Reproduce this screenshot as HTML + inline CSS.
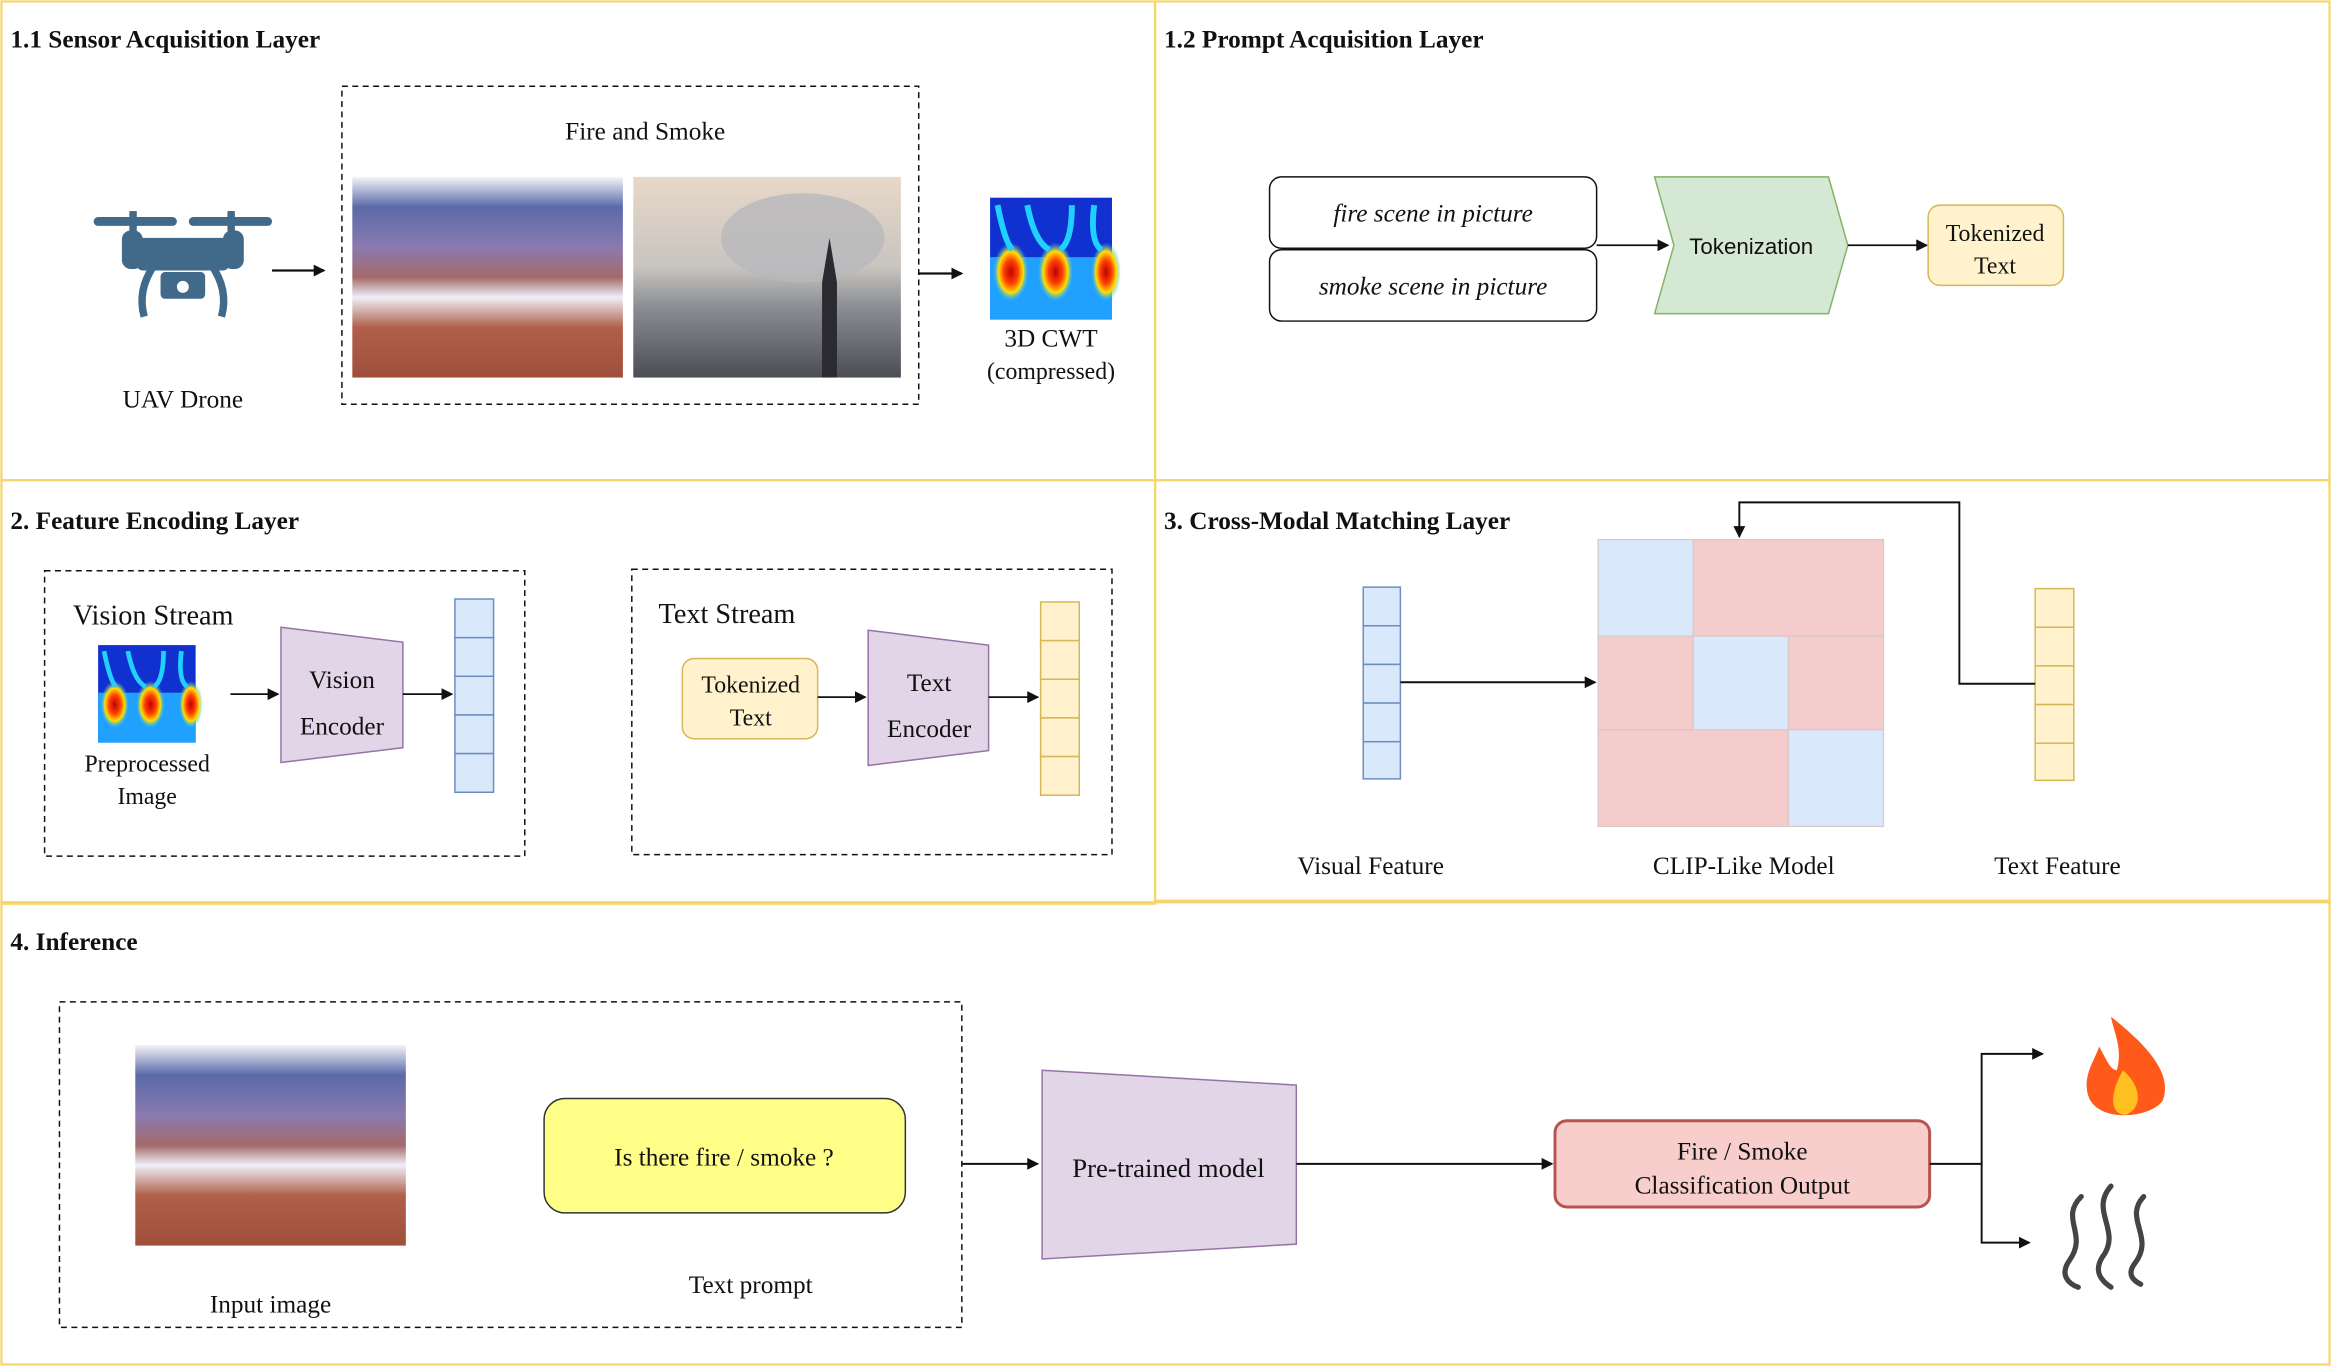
<!DOCTYPE html>
<html><head><meta charset="utf-8"><style>
html,body{margin:0;padding:0;background:#fff;width:2331px;height:1366px;overflow:hidden}
svg{display:block}
text{font-family:"Liberation Serif",serif;fill:#111}
.b{font-weight:bold;font-size:17px}
.s{font-family:"Liberation Sans",sans-serif}
</style></head><body>
<svg width="2331" height="1366" viewBox="0 0 1568 919" preserveAspectRatio="none" xmlns="http://www.w3.org/2000/svg">
<defs>
<marker id="a" markerWidth="8" markerHeight="8" refX="7" refY="4" orient="auto" markerUnits="userSpaceOnUse"><path d="M0,0 L8,4 L0,8 Z" fill="#111"/></marker>
<linearGradient id="g1" x1="0" y1="0" x2="0" y2="1"><stop offset="0" stop-color="#f4f4f8"/><stop offset="0.15" stop-color="#5a6aa8"/><stop offset="0.35" stop-color="#8a7ab0"/><stop offset="0.5" stop-color="#a46a6a"/><stop offset="0.6" stop-color="#eef0f8"/><stop offset="0.75" stop-color="#b0604a"/><stop offset="1" stop-color="#a0503a"/></linearGradient>
<linearGradient id="g2" x1="0" y1="0" x2="0" y2="1"><stop offset="0" stop-color="#e8d8c8"/><stop offset="0.45" stop-color="#c8c4c0"/><stop offset="0.65" stop-color="#8a8e92"/><stop offset="1" stop-color="#4a4e54"/></linearGradient>
<radialGradient id="hot"><stop offset="0" stop-color="#c00000"/><stop offset="0.4" stop-color="#ff4000"/><stop offset="0.7" stop-color="#ffe000"/><stop offset="1" stop-color="#20c0ff" stop-opacity="0"/></radialGradient>
<g id="cwt"><rect width="82" height="82" fill="#1030d0"/><rect y="40" width="82" height="42" fill="#20a0ff"/><ellipse cx="14" cy="50" rx="12" ry="20" fill="url(#hot)"/><ellipse cx="44" cy="50" rx="12" ry="20" fill="url(#hot)"/><ellipse cx="78" cy="50" rx="10" ry="20" fill="url(#hot)"/><path d="M5,5 q5,25 10,30 M25,5 q5,25 15,30 M55,5 q0,25 -8,30 M70,5 q-3,25 5,30" stroke="#20d0ff" stroke-width="4" fill="none"/></g>
</defs>
<!-- panels -->
<g fill="none" stroke="#f7d56a" stroke-width="1.5">
<rect x="1" y="1" width="776" height="322"/><rect x="777" y="1" width="790" height="322"/>
<rect x="1" y="323" width="776" height="285"/><rect x="777" y="323" width="790" height="283"/>
<rect x="1" y="607" width="1566" height="311"/>
</g>
<text x="7" y="32" class="b">1.1 Sensor Acquisition Layer</text>
<text x="783" y="32" class="b">1.2 Prompt Acquisition Layer</text>
<text x="7" y="356" class="b">2. Feature Encoding Layer</text>
<text x="783" y="356" class="b">3. Cross-Modal Matching Layer</text>
<text x="7" y="639" class="b">4. Inference</text>
<!-- drone -->
<g fill="#41698a">
<rect x="63" y="146" width="56" height="6" rx="3"/><rect x="127" y="146" width="56" height="6" rx="3"/>
<rect x="87" y="142" width="5" height="22"/><rect x="153" y="142" width="5" height="22"/>
<rect x="82" y="155" width="14" height="26" rx="6"/><rect x="150" y="155" width="14" height="26" rx="6"/>
<rect x="92" y="160" width="62" height="22" rx="4"/>
<rect x="108" y="183" width="30" height="18" rx="3"/>
<path d="M104,178 Q92,195 97,213" stroke="#41698a" stroke-width="5" fill="none"/><path d="M142,178 Q154,195 149,213" stroke="#41698a" stroke-width="5" fill="none"/>
</g><circle cx="123" cy="193" r="4" fill="#fff"/>
<text x="123" y="274" font-size="17" text-anchor="middle">UAV Drone</text>
<line x1="183" y1="182" x2="218" y2="182" stroke="#111" stroke-width="1.5" marker-end="url(#a)"/>
<rect x="230" y="58" width="388" height="214" fill="none" stroke="#111" stroke-dasharray="4,3"/>
<text x="434" y="94" font-size="17" text-anchor="middle">Fire and Smoke</text>
<rect x="237" y="119" width="182" height="135" fill="url(#g1)"/>
<rect x="426" y="119" width="180" height="135" fill="url(#g2)"/>
<ellipse cx="540" cy="160" rx="55" ry="30" fill="#b8b8bc" opacity="0.8"/>
<path d="M553,254 L553,190 L558,160 L563,190 L563,254 Z" fill="#2a2a30"/>
<line x1="618" y1="184" x2="647" y2="184" stroke="#111" stroke-width="1.5" marker-end="url(#a)"/>
<use href="#cwt" transform="translate(666,133)"/>
<text x="707" y="233" font-size="17" text-anchor="middle">3D CWT</text>
<text x="707" y="255" font-size="16" text-anchor="middle">(compressed)</text>
<!-- 1.2 -->
<rect x="854" y="119" width="220" height="48" rx="8" fill="#fff" stroke="#111"/>
<text x="964" y="149" font-size="17" font-style="italic" text-anchor="middle">fire scene in picture</text>
<rect x="854" y="168" width="220" height="48" rx="8" fill="#fff" stroke="#111"/>
<text x="964" y="198" font-size="17" font-style="italic" text-anchor="middle">smoke scene in picture</text>
<line x1="1074" y1="165" x2="1122" y2="165" stroke="#111" stroke-width="1.2" marker-end="url(#a)"/>
<path d="M1113,119 L1230,119 L1243,165 L1230,211 L1113,211 L1126,165 Z" fill="#d5e8d4" stroke="#82b366"/>
<text x="1178" y="171" font-size="15" class="s" text-anchor="middle">Tokenization</text>
<line x1="1243" y1="165" x2="1296" y2="165" stroke="#111" stroke-width="1.2" marker-end="url(#a)"/>
<rect x="1297" y="138" width="91" height="54" rx="8" fill="#fff2cc" stroke="#d6b656"/>
<text x="1342" y="162" font-size="16" text-anchor="middle">Tokenized</text><text x="1342" y="184" font-size="16" text-anchor="middle">Text</text>
<!-- 2 -->
<rect x="30" y="384" width="323" height="192" fill="none" stroke="#111" stroke-dasharray="4,3"/>
<text x="49" y="420" font-size="19">Vision Stream</text>
<use href="#cwt" transform="translate(66,434) scale(0.8)"/>
<text x="99" y="519" font-size="16" text-anchor="middle">Preprocessed</text><text x="99" y="541" font-size="16" text-anchor="middle">Image</text>
<line x1="155" y1="467" x2="187" y2="467" stroke="#111" stroke-width="1.2" marker-end="url(#a)"/>
<path d="M189,422 L271,432 L271,503 L189,513 Z" fill="#e1d5e7" stroke="#9673a6"/>
<text x="230" y="463" font-size="17" text-anchor="middle">Vision</text><text x="230" y="494" font-size="17" text-anchor="middle">Encoder</text>
<line x1="271" y1="467" x2="304" y2="467" stroke="#111" stroke-width="1.2" marker-end="url(#a)"/>
<g fill="#dae8fc" stroke="#6c8ebf"><rect x="306" y="403" width="26" height="26"/><rect x="306" y="429" width="26" height="26"/><rect x="306" y="455" width="26" height="26"/><rect x="306" y="481" width="26" height="26"/><rect x="306" y="507" width="26" height="26"/></g>
<rect x="425" y="383" width="323" height="192" fill="none" stroke="#111" stroke-dasharray="4,3"/>
<text x="443" y="419" font-size="19">Text Stream</text>
<rect x="459" y="443" width="91" height="54" rx="8" fill="#fff2cc" stroke="#d6b656"/>
<text x="505" y="466" font-size="16" text-anchor="middle">Tokenized</text><text x="505" y="488" font-size="16" text-anchor="middle">Text</text>
<line x1="550" y1="469" x2="582" y2="469" stroke="#111" stroke-width="1.2" marker-end="url(#a)"/>
<path d="M584,424 L665,434 L665,505 L584,515 Z" fill="#e1d5e7" stroke="#9673a6"/>
<text x="625" y="465" font-size="17" text-anchor="middle">Text</text><text x="625" y="496" font-size="17" text-anchor="middle">Encoder</text>
<line x1="665" y1="469" x2="698" y2="469" stroke="#111" stroke-width="1.2" marker-end="url(#a)"/>
<g fill="#fff2cc" stroke="#d6b656"><rect x="700" y="405" width="26" height="26"/><rect x="700" y="431" width="26" height="26"/><rect x="700" y="457" width="26" height="26"/><rect x="700" y="483" width="26" height="26"/><rect x="700" y="509" width="26" height="26"/></g>
<!-- 3 -->
<g fill="#dae8fc" stroke="#6c8ebf"><rect x="917" y="395" width="25" height="26"/><rect x="917" y="421" width="25" height="26"/><rect x="917" y="447" width="25" height="26"/><rect x="917" y="473" width="25" height="26"/><rect x="917" y="499" width="25" height="25"/></g>
<line x1="942" y1="459" x2="1073" y2="459" stroke="#111" stroke-width="1.3" marker-end="url(#a)"/>
<g stroke="#d8c8c8" stroke-width="0.8">
<rect x="1075" y="363" width="64" height="65" fill="#dae8fc"/><rect x="1139" y="363" width="128" height="65" fill="#f4cccc"/>
<rect x="1075" y="428" width="64" height="63" fill="#f4cccc"/><rect x="1139" y="428" width="64" height="63" fill="#dae8fc"/><rect x="1203" y="428" width="64" height="63" fill="#f4cccc"/>
<rect x="1075" y="491" width="128" height="65" fill="#f4cccc"/><rect x="1203" y="491" width="64" height="65" fill="#dae8fc"/>
</g>
<g fill="#fff2cc" stroke="#d6b656"><rect x="1369" y="396" width="26" height="26"/><rect x="1369" y="422" width="26" height="26"/><rect x="1369" y="448" width="26" height="26"/><rect x="1369" y="474" width="26" height="26"/><rect x="1369" y="500" width="26" height="25"/></g>
<polyline points="1369,460 1318,460 1318,338 1170,338 1170,361" fill="none" stroke="#111" stroke-width="1.3" marker-end="url(#a)"/>
<text x="922" y="588" font-size="17" text-anchor="middle">Visual Feature</text>
<text x="1173" y="588" font-size="17" text-anchor="middle">CLIP-Like Model</text>
<text x="1384" y="588" font-size="17" text-anchor="middle">Text Feature</text>
<!-- 4 -->
<rect x="40" y="674" width="607" height="219" fill="none" stroke="#111" stroke-dasharray="4,3"/>
<rect x="91" y="703" width="182" height="135" fill="url(#g1)"/>
<text x="182" y="883" font-size="17" text-anchor="middle">Input image</text>
<rect x="366" y="739" width="243" height="77" rx="14" fill="#ffff88" stroke="#333"/>
<text x="487" y="784" font-size="17" text-anchor="middle">Is there fire / smoke ?</text>
<text x="505" y="870" font-size="17" text-anchor="middle">Text prompt</text>
<line x1="647" y1="783" x2="698" y2="783" stroke="#111" stroke-width="1.3" marker-end="url(#a)"/>
<path d="M701,720 L872,730 L872,837 L701,847 Z" fill="#e1d5e7" stroke="#9673a6"/>
<text x="786" y="792" font-size="18" text-anchor="middle">Pre-trained model</text>
<line x1="872" y1="783" x2="1044" y2="783" stroke="#111" stroke-width="1.3" marker-end="url(#a)"/>
<rect x="1046" y="754" width="252" height="58" rx="8" fill="#f8cecc" stroke="#b85450" stroke-width="2"/>
<text x="1172" y="780" font-size="17" text-anchor="middle">Fire / Smoke</text><text x="1172" y="803" font-size="17" text-anchor="middle">Classification Output</text>
<polyline points="1298,783 1333,783 1333,709 1374,709" fill="none" stroke="#111" stroke-width="1.3" marker-end="url(#a)"/>
<polyline points="1333,783 1333,836 1365,836" fill="none" stroke="#111" stroke-width="1.3" marker-end="url(#a)"/>
<path d="M1420,684 C1440,700 1462,720 1455,740 C1448,752 1412,756 1405,738 C1400,724 1410,712 1412,704 C1418,715 1420,720 1424,720 C1428,705 1422,695 1420,684 Z" fill="#ff5a1a"/>
<path d="M1428,720 C1440,730 1442,745 1430,750 C1420,750 1418,738 1428,720 Z" fill="#ffc020"/>
<g fill="none" stroke="#444" stroke-width="3.5" stroke-linecap="round">
<path d="M1400,805 C1385,820 1405,830 1392,848 C1385,858 1392,864 1398,866"/>
<path d="M1420,798 C1405,815 1428,828 1414,846 C1408,856 1414,862 1420,866"/>
<path d="M1442,805 C1428,820 1450,832 1436,850 C1430,858 1436,862 1440,864"/>
</g>
</svg>
</body></html>
